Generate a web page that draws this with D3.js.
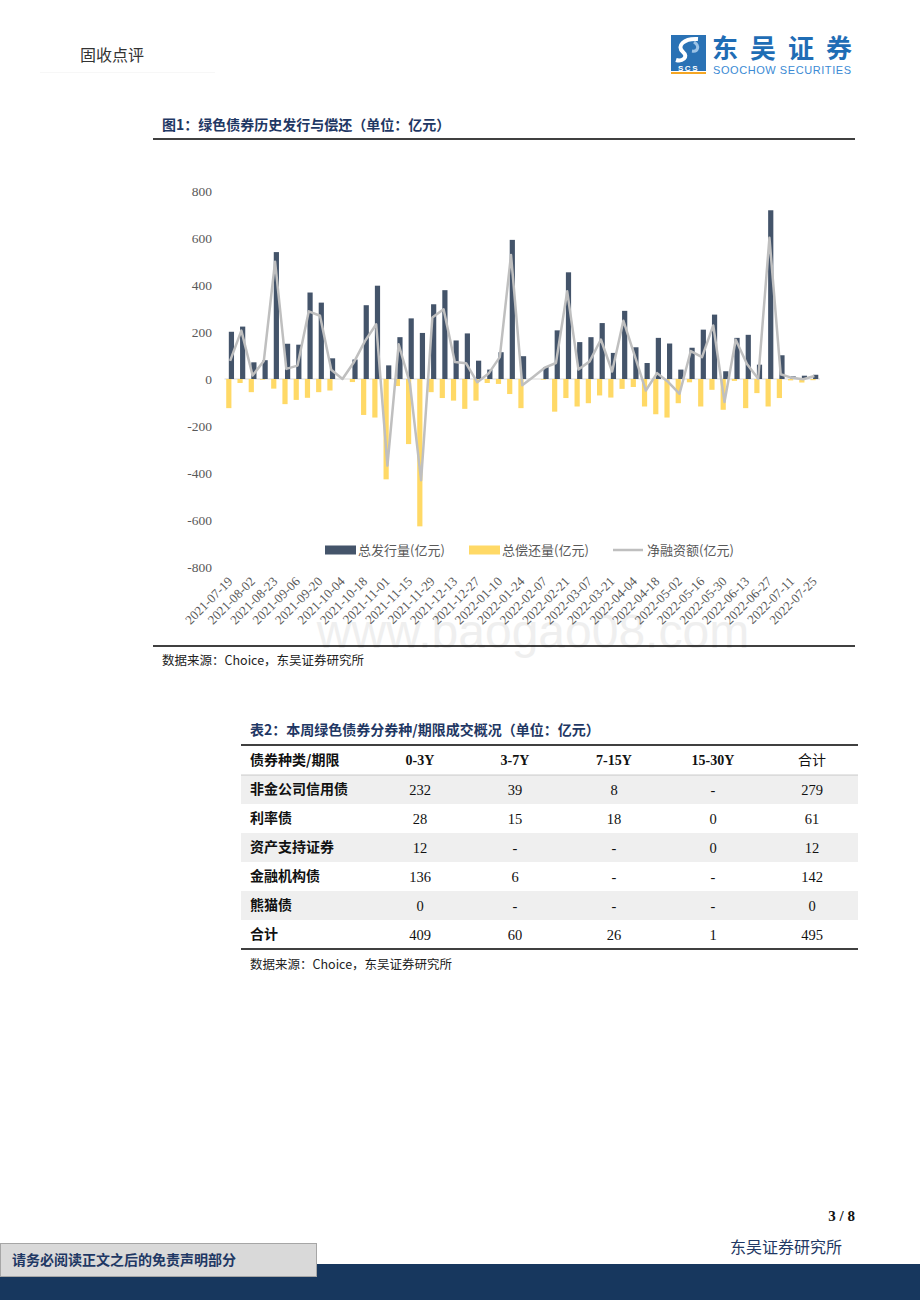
<!DOCTYPE html>
<html><head><meta charset="utf-8">
<script src="https://cdn.jsdelivr.net/npm/d3@7/dist/d3.min.js"></script>
<style>
html,body{margin:0;padding:0;background:#fff;}
svg{display:block;}
</style></head>
<body>
<svg id="page" width="920" height="1302"></svg>
<script>
// ---------- data ----------
const weeks = ["2021-07-19","2021-07-26","2021-08-02","2021-08-16","2021-08-23","2021-08-30","2021-09-06","2021-09-13","2021-09-20","2021-09-27",
"2021-10-04","2021-10-11","2021-10-18","2021-10-25","2021-11-01","2021-11-08","2021-11-15","2021-11-22","2021-11-29","2021-12-06",
"2021-12-13","2021-12-20","2021-12-27","2022-01-03","2022-01-10","2022-01-17","2022-01-24","2022-01-31","2022-02-07","2022-02-14",
"2022-02-21","2022-02-28","2022-03-07","2022-03-14","2022-03-21","2022-03-28","2022-04-04","2022-04-11","2022-04-18","2022-04-25",
"2022-05-02","2022-05-09","2022-05-16","2022-05-23","2022-05-30","2022-06-06","2022-06-13","2022-06-20","2022-06-27","2022-07-04",
"2022-07-11","2022-07-18","2022-07-25"];
const issuance = [201,223,71,80,540,150,146,368,325,88,0,83,314,397,58,178,258,196,318,378,164,194,78,40,114,592,97,0,51,207,454,157,178,238,111,290,135,68,175,151,40,133,210,274,33,175,188,61,718,101,11,14,18];
const repayment = [-124,-17,-56,-3,-41,-107,-89,-80,-56,-49,0,-13,-153,-164,-427,-30,-277,-627,-56,-81,-92,-127,-92,-17,-21,-64,-124,0,-3,-139,-81,-117,-103,-70,-79,-42,-34,-117,-150,-164,-103,-14,-117,-46,-131,-8,-124,-60,-117,-81,-6,-15,-5];
const netFinancing = [77,206,15,77,499,43,57,288,269,39,0,70,161,233,-369,148,-19,-431,262,297,72,67,-14,23,93,528,-27,10,48,68,373,40,75,168,32,248,101,-49,25,-13,-63,119,93,228,-98,167,64,1,601,20,5,-1,13];
const yTicks = [-800,-600,-400,-200,0,200,400,600,800];
const seriesNames = ["总发行量(亿元)","总偿还量(亿元)","净融资额(亿元)"];

const tableTitle = "表2：本周绿色债券分券种/期限成交概况（单位：亿元）";
const tableHeader = ["债券种类/期限","0-3Y","3-7Y","7-15Y","15-30Y","合计"];
const tableRows = [
  ["非金公司信用债","232","39","8","-","279"],
  ["利率债","28","15","18","0","61"],
  ["资产支持证券","12","-","-","0","12"],
  ["金融机构债","136","6","-","-","142"],
  ["熊猫债","0","-","-","-","0"],
  ["合计","409","60","26","1","495"]
];

// ---------- page ----------
const svg = d3.select("#page");
const CJK = "'Noto Sans CJK SC', sans-serif";
const SERIF = "'Liberation Serif','Times New Roman', serif";
const NAVY = "#44546a", YELLOW = "#ffd966", GRAY = "#bfbfbf", TITLE = "#1f3864";

// header
svg.append("text").attr("x",80).attr("y",61).attr("font-family",CJK).attr("font-size",16).attr("fill","#333").text("固收点评");
svg.append("line").attr("x1",40).attr("x2",215).attr("y1",72.5).attr("y2",72.5).attr("stroke","#f7f7f7").attr("stroke-width",1);

// logo
const logo = svg.append("g");
logo.append("rect").attr("x",671).attr("y",35).attr("width",35).attr("height",29).attr("fill","#2a72b5");
logo.append("path").attr("d","M698,39 C684,38 676,46 683,52 C689,57 682,62 676,60").attr("fill","none").attr("stroke","#fff").attr("stroke-width",4);
logo.append("path").attr("d","M694,42 C700,46 698,52 692,51").attr("fill","none").attr("stroke","#9cc3e6").attr("stroke-width",3);
logo.append("rect").attr("x",671).attr("y",64).attr("width",35).attr("height",7).attr("fill","#2a72b5");
logo.append("text").attr("x",688.5).attr("y",70.5).attr("text-anchor","middle").attr("font-family","'Liberation Sans',sans-serif").attr("font-weight","bold").attr("font-size",8).attr("fill","#fff").attr("letter-spacing",1.5).text("SCS");
logo.append("rect").attr("x",671).attr("y",72).attr("width",35).attr("height",2).attr("fill","#f5a623");
logo.append("text").attr("x",712).attr("y",58).attr("font-family",CJK).attr("font-weight","bold").attr("font-size",26).attr("fill","#1f6db5").attr("textLength",140).text("东吴证券");
logo.append("text").attr("x",713).attr("y",74).attr("font-family","'Liberation Sans',sans-serif").attr("font-size",11).attr("fill","#3a8ad4").attr("textLength",138).text("SOOCHOW SECURITIES");

// figure title
svg.append("text").attr("x",162).attr("y",130).attr("font-family",CJK).attr("font-weight","bold").attr("font-size",14).attr("fill",TITLE).text("图1：绿色债券历史发行与偿还（单位：亿元）");
svg.append("line").attr("x1",153).attr("x2",855).attr("y1",139).attr("y2",139).attr("stroke","#000").attr("stroke-width",1.5);

// watermark
svg.append("text").attr("x",533).attr("y",648).attr("text-anchor","middle").attr("font-family","'Liberation Sans',sans-serif").attr("font-size",48).attr("fill","#efefef").text("www.baogao08.com");

// ---------- chart ----------
const x = d3.scaleBand().domain(weeks).range([224.5, 820]).paddingInner(0).paddingOuter(0);
const y = d3.scaleLinear().domain([-800, 800]).range([567, 191]);
const bw = 5.2;
const chart = svg.append("g");

// y tick labels
chart.append("g").selectAll("text").data(yTicks).join("text")
  .attr("x",212).attr("y",d=>y(d)).attr("dy","0.35em").attr("text-anchor","end")
  .attr("font-family",SERIF).attr("font-size",13.5).attr("fill","#595959").text(d=>d);

// zero line
chart.append("line").attr("x1",x.range()[0]).attr("x2",x.range()[1]).attr("y1",y(0)).attr("y2",y(0)).attr("stroke","#d9d9d9").attr("stroke-width",1);

const cx = d => x(d) + x.bandwidth()/2;
// repayment bars
chart.append("g").selectAll("rect").data(weeks).join("rect")
  .attr("x",(d)=>cx(d)-1.3-bw/2).attr("width",bw)
  .attr("y",(d,i)=>y(0)).attr("height",(d,i)=>Math.abs(y(repayment[i])-y(0)))
  .attr("fill",YELLOW);
// issuance bars
chart.append("g").selectAll("rect").data(weeks).join("rect")
  .attr("x",(d)=>cx(d)+1.3-bw/2).attr("width",bw)
  .attr("y",(d,i)=>y(issuance[i])).attr("height",(d,i)=>Math.abs(y(0)-y(issuance[i])))
  .attr("fill",NAVY);
// net line
const line = d3.line().x((d,i)=>cx(weeks[i])).y(d=>y(d));
chart.append("path").datum(netFinancing).attr("d",line).attr("fill","none").attr("stroke",GRAY).attr("stroke-width",2.5).attr("stroke-linejoin","round");

// x labels
const xAxisG = chart.append("g");
xAxisG.selectAll("text").data(weeks.filter((d,i)=>i%2===0)).join("text")
  .attr("transform",d=>`translate(${cx(d)},${579}) rotate(-45)`)
  .attr("text-anchor","end").attr("dy","0.35em")
  .attr("font-family",SERIF).attr("font-size",13).attr("fill","#595959").text(d=>d);

// legend
const lg = chart.append("g").attr("font-family",CJK).attr("font-size",13).attr("fill","#595959");
lg.append("rect").attr("x",325).attr("y",545.5).attr("width",31).attr("height",9).attr("fill",NAVY);
lg.append("text").attr("x",358).attr("y",550).attr("dy","0.35em").text(seriesNames[0]);
lg.append("rect").attr("x",469).attr("y",545.5).attr("width",31).attr("height",9).attr("fill",YELLOW);
lg.append("text").attr("x",502).attr("y",550).attr("dy","0.35em").text(seriesNames[1]);
lg.append("line").attr("x1",613).attr("x2",643).attr("y1",550).attr("y2",550).attr("stroke",GRAY).attr("stroke-width",2.5);
lg.append("text").attr("x",647).attr("y",550).attr("dy","0.35em").text(seriesNames[2]);

// bottom rule + source
svg.append("line").attr("x1",153).attr("x2",855).attr("y1",646).attr("y2",646).attr("stroke","#000").attr("stroke-width",1.5);
svg.append("text").attr("x",162).attr("y",661).attr("dy","0.35em").attr("font-family",CJK).attr("font-size",12.5).attr("fill","#222").text("数据来源：Choice，东吴证券研究所");

// ---------- table ----------
svg.append("text").attr("x",250).attr("y",730).attr("dy","0.35em").attr("font-family",CJK).attr("font-weight","bold").attr("font-size",14).attr("fill",TITLE).text(tableTitle);
const colX = [250, 420, 515, 614, 713, 812];
const rowH = 29, headY = 760, firstRowTop = 775;
const tb = svg.append("g");
tb.selectAll("rect.band").data(tableRows).join("rect").attr("class","band")
  .attr("x",241).attr("width",617).attr("y",(d,i)=>firstRowTop+i*rowH).attr("height",rowH)
  .attr("fill",(d,i)=>i%2===0?"#efefef":"#fff");
tb.append("line").attr("x1",241).attr("x2",858).attr("y1",745).attr("y2",745).attr("stroke","#000").attr("stroke-width",1.5);
tb.append("line").attr("x1",241).attr("x2",858).attr("y1",firstRowTop).attr("y2",firstRowTop).attr("stroke","#bfbfbf").attr("stroke-width",0.8);
tb.append("line").attr("x1",241).attr("x2",858).attr("y1",firstRowTop+6*rowH).attr("y2",firstRowTop+6*rowH).attr("stroke","#000").attr("stroke-width",1.5);
tb.selectAll("text.h").data(tableHeader).join("text").attr("class","h")
  .attr("x",(d,i)=>colX[i]).attr("y",headY).attr("dy","0.35em")
  .attr("text-anchor",(d,i)=>i===0?"start":"middle")
  .attr("font-family",(d,i)=>(i===0||i===5)?CJK:SERIF).attr("font-weight",(d,i)=>i===5?"normal":"bold").attr("font-size",14).attr("fill","#111").text(d=>d);
tableRows.forEach((row,r)=>{
  tb.append("g").selectAll("text").data(row).join("text")
    .attr("x",(d,i)=>colX[i]).attr("y",firstRowTop+r*rowH+rowH/2).attr("dy","0.35em")
    .attr("text-anchor",(d,i)=>i===0?"start":"middle")
    .attr("font-family",(d,i)=>i===0?CJK:SERIF).attr("font-weight",(d,i)=>i===0?"bold":"normal")
    .attr("font-size",(d,i)=>i===0?14:14.5).attr("fill","#111").text(d=>d);
});
svg.append("text").attr("x",250).attr("y",965).attr("dy","0.35em").attr("font-family",CJK).attr("font-size",12.5).attr("fill","#222").text("数据来源：Choice，东吴证券研究所");

// ---------- footer ----------
svg.append("text").attr("x",855).attr("y",1221).attr("text-anchor","end").attr("font-family",SERIF).attr("font-weight","bold").attr("font-size",15).attr("fill","#111").text("3 / 8");
svg.append("text").attr("x",842).attr("y",1247).attr("dy","0.35em").attr("text-anchor","end").attr("font-family",CJK).attr("font-size",16).attr("fill","#1f3864").text("东吴证券研究所");
svg.append("rect").attr("x",0).attr("y",1264).attr("width",920).attr("height",36).attr("fill","#17375e");
svg.append("rect").attr("x",0.5).attr("y",1243.5).attr("width",316).attr("height",33).attr("fill","#d9d9d9").attr("stroke","#a6a6a6").attr("stroke-width",1);
svg.append("text").attr("x",12).attr("y",1260).attr("dy","0.35em").attr("font-family",CJK).attr("font-weight","bold").attr("font-size",14).attr("fill","#1f3864").text("请务必阅读正文之后的免责声明部分");
</script>
</body></html>
